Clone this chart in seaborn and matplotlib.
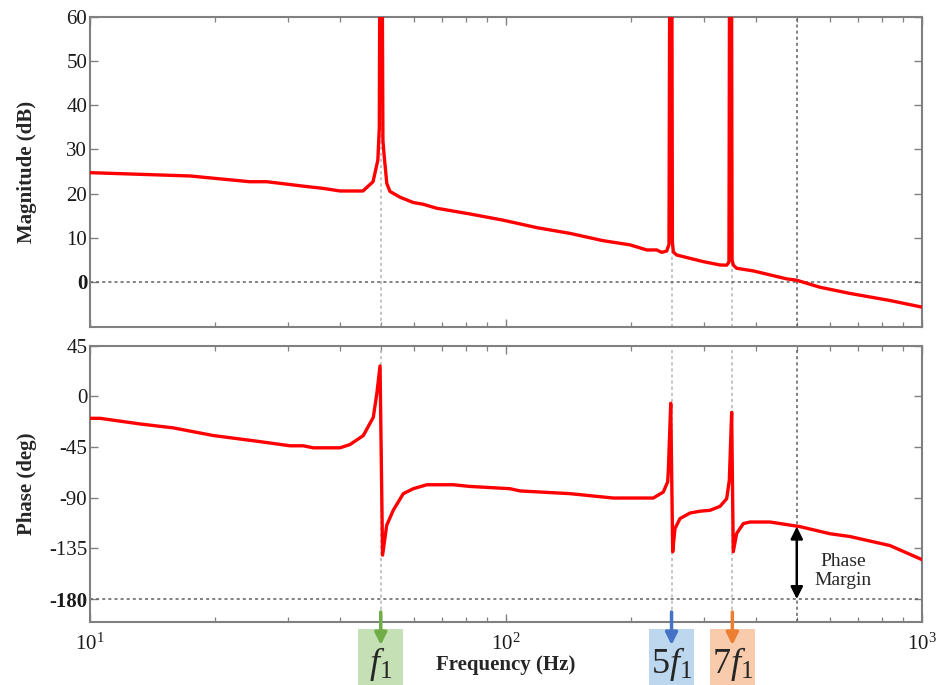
import matplotlib
matplotlib.use("Agg")
import matplotlib.pyplot as plt
import matplotlib.ticker as mticker
import seaborn as sns
import pandas as pd

# ---------------- data ----------------
mag_freq = [10, 17.4, 24.2, 26.6, 33.2, 36.3, 39.9, 45.3, 47.9, 49.2, 49.6, 49.8, 50.3,
            50.6, 50.9, 51.7, 52.6, 55.6, 59.8, 63.2, 68.1, 81.9, 98.3, 118.6, 142.5,
            171.1, 198.7, 217.9, 230.3, 236.8, 243.4, 246.5, 247.8, 250.2, 251.2, 252.5,
            257.2, 298.1, 326.9, 339.2, 343.5, 345.0, 348.2, 349.5, 352.0, 358.5, 393.1,
            431.2, 472.9, 499.5, 568.6, 671.3, 837.5, 1000]
mag_db = [24.75, 24.0, 22.7, 22.7, 21.6, 21.2, 20.6, 20.6, 22.7, 27.6, 35, 90, 90,
          32, 29, 22.3, 20.5, 19.2, 18.0, 17.6, 16.7, 15.4, 14.0, 12.3, 11.0,
          9.35, 8.4, 7.25, 7.25, 6.7, 7.0, 8.5, 90, 90, 9, 6.8,
          6.1, 4.6, 3.85, 3.8, 4.5, 90, 90, 5, 3.8, 3.1, 2.5,
          1.6, 0.7, 0.4, -1.2, -2.6, -4.2, -5.7]

ph_freq = [10, 10.57, 13.19, 15.86, 19.80, 25.16, 30.26, 32.56, 34.42, 39.9, 42.17,
           45.39, 47.97, 48.9, 49.8, 50.5, 51.67, 53.6, 56.64, 59.86, 64.5, 74.7, 81.9,
           102.2, 108.1, 142.5, 181.1, 226.0, 238.8, 244.7, 245.6, 248.9, 251.6, 254.8,
           261.9, 276.9, 292.6, 309.3, 326.9, 339.2, 344.2, 348.7, 351.8, 358.5, 371.9,
           386.0, 431.2, 508.9, 600.9, 671.3, 837.5, 1000]
ph_deg = [-19.5, -19.5, -24.5, -28, -34.8, -39.8, -43.9, -43.9, -45.7, -45.7, -42.8,
          -34.8, -18.6, 2, 27, -141, -114.5, -101, -86.4, -82, -78.5, -78.5, -80,
          -82, -84, -86.4, -90.3, -90.3, -85, -76, -65.8, -6.2, -138, -117.4,
          -108.6, -103.6, -102, -101.2, -97.7, -90.9, -74.6, -14.2, -138, -121.8, -113,
          -111.6, -111.6, -115.7, -122, -124.5, -132.5, -145]

harm_freq = [50, 250, 350]
harm_labels = [r"$f_1$", r"$5f_1$", r"$7f_1$"]
harm_box_colors = ["#c5e0b4", "#bdd7ee", "#f8cbad"]
harm_arrow_colors = ["#70ad47", "#4472c4", "#ed7d31"]
crossover_freq = 500
pm_phase = -115.7

mag_ticks = [0, 10, 20, 30, 40, 50, 60]
ph_ticks = [45, 0, -45, -90, -135, -180]
x_ticks = [10, 100, 1000]
x_tick_labels = [r"$10^{1}$", r"$10^{2}$", r"$10^{3}$"]

# ---------------- style ----------------
sns.set_theme(style="ticks")
plt.rcParams["font.family"] = ["Liberation Serif", "DejaVu Serif"]
plt.rcParams["mathtext.fontset"] = "custom"
plt.rcParams["mathtext.rm"] = "Liberation Serif"
plt.rcParams["mathtext.it"] = "Liberation Serif:italic"
plt.rcParams["axes.unicode_minus"] = False

W, H = 941, 685
fig = plt.figure(figsize=(W / 100, H / 100), dpi=100)
L, R = 90, 922
ax1 = fig.add_axes([L / W, 1 - 327 / H, (R - L) / W, (327 - 17) / H])
ax2 = fig.add_axes([L / W, 1 - 622 / H, (R - L) / W, (622 - 345.7) / H])

mag_df = pd.DataFrame({"f": mag_freq, "db": mag_db})
ph_df = pd.DataFrame({"f": ph_freq, "deg": ph_deg})

spine_c = "#808080"
light_grid = "#b4b4b4"
dark_grid = "#606060"

for ax in (ax1, ax2):
    ax.set_xscale("log")
    ax.set_xlim(10, 1000)
    for f in harm_freq:
        ax.axvline(f, color=light_grid, ls=(0, (2, 2)), lw=1.1, zorder=1)
    ax.axvline(crossover_freq, color=dark_grid, ls=(0, (2, 2)), lw=1.1, zorder=1)
    for s in ax.spines.values():
        s.set_color(spine_c)
        s.set_linewidth(1.5)
    ax.tick_params(which="both", direction="in", top=True, right=True, colors=spine_c,
                   labelcolor="#1a1a1a", labelsize=15)
    ax.tick_params(which="major", length=6, width=1.0)
    ax.tick_params(which="minor", length=3.5, width=0.9)
    ax.xaxis.set_minor_locator(mticker.LogLocator(base=10, subs=range(2, 10)))
    ax.xaxis.set_minor_formatter(mticker.NullFormatter())

sns.lineplot(data=mag_df, x="f", y="db", ax=ax1, color="#ff0000", lw=2.4,
             estimator=None, sort=False, zorder=3)
sns.lineplot(data=ph_df, x="f", y="deg", ax=ax2, color="#ff0000", lw=2.4,
             estimator=None, sort=False, zorder=3)

ax1.axhline(0, color=dark_grid, ls=(0, (2, 2)), lw=1.1, zorder=1)
ax2.axhline(-180, color=dark_grid, ls=(0, (2, 2)), lw=1.1, zorder=1)

ax1.set_ylim(-10.2, 60)
ax1.set_yticks(mag_ticks)
ax1.set_yticklabels([str(t) for t in mag_ticks])
ax1.set_xticks(x_ticks)
ax1.set_xticklabels([])
ax1.tick_params(axis="y", pad=2)
for lab in ax1.get_yticklabels():
    if lab.get_text() == "0":
        lab.set_fontweight("bold")

ax2.set_ylim(-200.4, 45)
ax2.set_yticks(ph_ticks)
ax2.set_yticklabels([str(t) for t in ph_ticks])
ax2.set_xticks(x_ticks)
ax2.set_xticklabels(x_tick_labels)
ax2.tick_params(axis="y", pad=2)
ax2.tick_params(axis="x", which="major", pad=8)
for lab in ax2.get_yticklabels():
    if lab.get_text() == "-180":
        lab.set_fontweight("bold")

ax1.set_xlabel("")
ax1.set_ylabel("Magnitude (dB)", fontsize=15, fontweight="bold")
ax2.set_ylabel("Phase (deg)", fontsize=15, fontweight="bold")
ax1.yaxis.set_label_coords((37 - L) / (R - L), 0.5)
ax2.yaxis.set_label_coords((37 - L) / (R - L), 0.5)
ax2.set_xlabel("Frequency (Hz)", fontsize=15, fontweight="bold")
ax2.xaxis.set_label_coords(0.5, (622 - 655) / (622 - 345.7))

# phase margin arrow
ax2.annotate("", xy=(crossover_freq, -180), xytext=(crossover_freq, pm_phase),
             arrowprops=dict(arrowstyle="<|-|>", color="black", lw=1.8,
                             mutation_scale=18, shrinkA=0, shrinkB=0), zorder=4)
ax2.text(646, -155, "Phase\nMargin", fontsize=14, ha="center", va="center",
         linespacing=1.1)

# harmonic markers below the axis
fig.canvas.draw()
for f, lab, bc, ac in zip(harm_freq, harm_labels, harm_box_colors, harm_arrow_colors):
    xp = ax2.transData.transform((f, 0))[0]
    bw = 45
    rect = plt.Rectangle(((xp - bw / 2) / W, 0), bw / W, (685 - 629) / H,
                         transform=fig.transFigure, facecolor=bc, edgecolor="none",
                         zorder=0)
    fig.patches.append(rect)
    fig.text(xp / W, 1 - 673 / H, lab, fontsize=26, ha="center", va="baseline")
    fig.add_artist(matplotlib.patches.FancyArrowPatch(
        (xp / W, 1 - 612 / H), (xp / W, 1 - 645 / H), transform=fig.transFigure,
        arrowstyle="-|>", mutation_scale=18, color=ac, lw=2.5, shrinkA=0, shrinkB=0))

fig.savefig("out.png", dpi=100)
